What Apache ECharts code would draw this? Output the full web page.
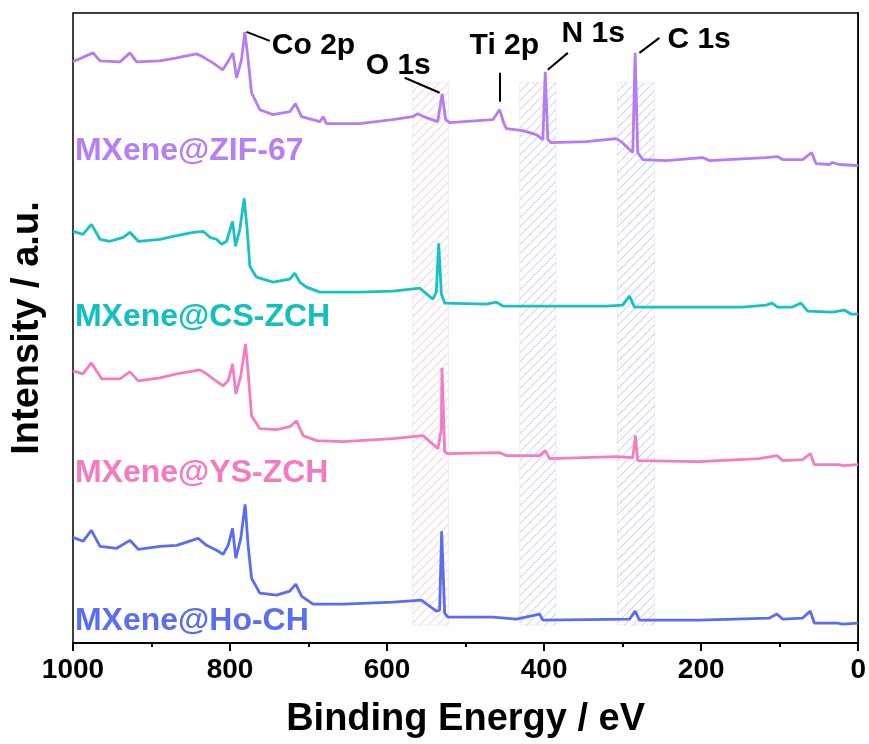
<!DOCTYPE html>
<html>
<head>
<meta charset="utf-8">
<script src="https://cdn.jsdelivr.net/npm/echarts@6/dist/echarts.min.js"></script>
<style>
  html, body { margin: 0; padding: 0; background: #fff; }
  #chart { width: 869px; height: 744px; }
</style>
</head>
<body>
<div id="chart"></div>
<script>
// binding energy (eV) / intensity (a.u., stacked with offsets as in the figure)
var zifEV = [1000,974.6,965.6,940.2,927.5,919,889.3,868,842.6,834.6,821.9,809.2,802.8,796.4,791.7,785.4,781.2,777.3,772.6,762.1,745.5,723.9,716.7,709,685.7,681.5,677.2,634.9,592.9,567.4,561,550,535.6,529.9,525.4,520.3,465.3,456.7,451.6,448.2,427.1,410,401.6,398.6,395.3,391,346.4,308.3,301.9,291.3,287.1,284.1,280.8,274.4,244.6,198.1,189.6,117.4,102.6,96.3,70.8,59.4,53.8,36.8,32.7,24.1,2.1,0]
var zifI  = [583,592,584,583,592,583,584,587,591,588,582,575,583,592,567,585,613,588,552,535,530,533,541,528,523,528,521,521,525,528,531,527,523,551,525,522,525,535,522,516,514,510,505,573,505,502,503,506,503,495,492,592,492,485,484,487,484,487,488,485,485,492,481,480,482,480,479,479]

var csEV = [1000,987.3,976.6,965.6,952.9,936,927.5,916.9,889.3,872.4,846.9,834.2,825.7,817.2,810.8,804.4,796.8,793,787.5,782,778.2,774.8,766.3,745.2,723.9,717.6,711.2,702.7,685.7,634.9,592.5,558.5,541.6,537.3,534.3,530.9,526.7,473.6,460.9,452.5,320.9,299.8,291.3,284.9,147.2,117.4,109.8,102.6,83.6,72.9,64.4,32.7,17.8,9.3,0]
var csI  = [413,410,420,405,403,407,412,403,405,408,412,413,407,405,400,403,423,398,415,446,415,378,367,362,365,371,362,357,352,352,353,356,345,352,401,350,341,340,342,338,338,339,348,337,337,339,341,337,337,341,333,332,334,330,330]

var ysEV = [1000,987.3,976.6,963.5,940.2,927.5,916.9,889.3,868,838.4,829.9,821.5,808.8,802.4,796.8,792.6,786.3,780.3,777,772.6,762.1,740.8,723.9,715.4,707,689.9,656.1,592.5,554.3,535.2,530.9,530.1,526.7,522.5,456.7,448.2,405.8,398.6,393.1,308.3,287.1,283.7,280.8,202.3,126,103.4,96.3,70.8,61,55.9,24.1,19.9,0]
var ysI  = [273,270,281,265,265,272,263,266,270,274,270,265,258,263,280,250,268,300,272,228,215,214,217,223,208,203,202,205,208,195,215,276,192,190,191,188,188,193,185,187,186,208,183,182,185,188,183,184,190,179,179,178,179]

var hoEV = [1000,987.3,976.6,965.6,944.4,927.5,916.9,889.3,868,840.6,829.9,817.2,808.8,802.4,796.8,792.6,786.3,780.8,777,772.6,762.1,740.8,723.9,716.3,709,694.3,656.1,592.5,556.4,537.3,533.1,530.5,526.7,522.5,465.3,435.5,405.8,401.6,291.3,284.1,278.6,202.3,113.2,103.4,96.3,70.8,61,55.9,26.3,19.9,0]
var hoI  = [106,102,113,97,95,103,94,97,98,105,98,93,89,98,115,85,105,139,98,65,50,48,52,59,47,39,39,41,43,32,33,112,30,26,26,24,29,23,24,32,23,23,25,29,24,25,32,20,20,19,20]

var seriesNames = ['MXene@ZIF-67', 'MXene@CS-ZCH', 'MXene@YS-ZCH', 'MXene@Ho-CH']
var seriesColors = ['#b67cf2', '#17c2c2', '#f47cc1', '#5a6df0']
var labelColors = ['#b67ff2', '#12c0c0', '#f47bc0', '#5a6ef0']
var nameLabelPos = [[997.5, 493], [997.5, 327], [997.5, 170], [997.5, 22]]

// peak assignments
var peakNames = ['Co 2p', 'O 1s', 'Ti 2p', 'N 1s', 'C 1s']
var peakTextPos = [[746.8, 599], [627.2, 579], [494.9, 599], [377.8, 611], [243, 605]]
var peakLeaders = [
  [[779, 613], [749.4, 604]],
  [[577.6, 567], [533.1, 552]],
  [[456.7, 572], [456.7, 543]],
  [[395.3, 575], [369.8, 592]],
  [[278.6, 592], [253.2, 607]]
]

// hatched regions [from eV, to eV]
var bandFrom = [567.4, 431, 306.6]
var bandTo = [521.6, 385, 259.5]
var bandColors = ['#f4c3cb', '#c3c2f0', '#c3c2f0']
var bandLow = 18, bandHigh = 562

function zip (a, b) {
  var out = []
  for (var i = 0; i < a.length; i++) out.push([a[i], b[i]])
  return out
}

var chart = echarts.init(document.getElementById('chart'))
var font = 'Liberation Sans, Arial, sans-serif'
var curves = [zip(zifEV, zifI), zip(csEV, csI), zip(ysEV, ysI), zip(hoEV, hoI)]

var series = []
// shaded bands, hatched with "/" lines
series.push({
  type: 'custom',
  z: 1,
  silent: true,
  data: bandFrom.map(function (f, i) { return [f, bandTo[i], i] }),
  renderItem: function (params, api) {
    var p1 = api.coord([api.value(0), bandHigh])
    var p2 = api.coord([api.value(1), bandLow])
    var x0 = Math.min(p1[0], p2[0]), x1 = Math.max(p1[0], p2[0])
    var y0 = Math.min(p1[1], p2[1]), y1 = Math.max(p1[1], p2[1])
    var col = bandColors[api.value(2)]
    var kids = [{
      type: 'rect',
      shape: { x: x0, y: y0, width: x1 - x0, height: y1 - y0 },
      style: { fill: 'none', stroke: 'rgba(232,230,244,0.7)', lineWidth: 1 }
    }]
    var step = 9
    for (var c = x0 + y0; c < x1 + y1; c += step) {
      var lo = Math.max(x0, c - y1), hi = Math.min(x1, c - y0)
      if (lo < hi) {
        kids.push({
          type: 'line',
          shape: { x1: lo, y1: c - lo, x2: hi, y2: c - hi },
          style: { stroke: col, lineWidth: 1 }
        })
      }
    }
    return { type: 'group', children: kids }
  }
})
curves.forEach(function (d, i) {
  series.push({
    name: seriesNames[i],
    type: 'line',
    data: d,
    z: 3,
    showSymbol: false,
    symbol: 'none',
    lineStyle: { color: seriesColors[i], width: 2.8 }
  })
})
// curve names
series.push({
  type: 'scatter',
  z: 4,
  symbolSize: 0,
  silent: true,
  itemStyle: { opacity: 1 },
  data: seriesNames.map(function (n, i) {
    return {
      name: n,
      value: nameLabelPos[i],
      label: { color: labelColors[i] }
    }
  }),
  label: {
    show: true,
    position: 'right',
    distance: 0,
    formatter: '{b}',
    fontFamily: font,
    fontWeight: 'bold',
    fontSize: 32
  }
})
// peak labels with leader lines
series.push({
  type: 'scatter',
  z: 4,
  symbolSize: 0,
  silent: true,
  itemStyle: { opacity: 1 },
  data: peakNames.map(function (n, i) {
    return { name: n, value: peakTextPos[i] }
  }),
  label: {
    show: true,
    position: 'right',
    distance: 0,
    formatter: '{b}',
    color: '#000',
    fontFamily: font,
    fontWeight: 'bold',
    fontSize: 30
  },
  markLine: {
    silent: true,
    symbol: 'none',
    label: { show: false },
    lineStyle: { color: '#000', width: 2, type: 'solid', opacity: 1 },
    data: peakLeaders.map(function (l) {
      return [{ coord: l[0] }, { coord: l[1] }]
    })
  }
})

var option = {
  animation: false,
  backgroundColor: '#fff',
  grid: {
    left: 73,
    right: 10,
    top: 13,
    bottom: 99,
    show: true,
    borderColor: '#000',
    borderWidth: 1.5
  },
  xAxis: {
    type: 'value',
    inverse: true,
    min: 0,
    max: 1000,
    interval: 200,
    name: 'Binding Energy / eV',
    nameLocation: 'middle',
    nameGap: 58,
    nameTextStyle: { fontFamily: font, fontWeight: 'bold', fontSize: 38, color: '#000' },
    axisLine: { lineStyle: { color: '#000', width: 2 } },
    axisTick: { length: 8, lineStyle: { color: '#000', width: 2 } },
    minorTick: { show: true, splitNumber: 2, length: 4, lineStyle: { color: '#000', width: 2 } },
    splitLine: { show: false },
    axisLabel: {
      margin: 13,
      fontFamily: font,
      fontWeight: 'bold',
      fontSize: 28,
      color: '#000',
      formatter: function (v) { return String(v) }
    }
  },
  yAxis: {
    type: 'value',
    min: 0,
    max: 632,
    name: 'Intensity / a.u.',
    nameLocation: 'middle',
    nameGap: 26,
    nameTextStyle: { fontFamily: font, fontWeight: 'bold', fontSize: 38, color: '#000' },
    axisLine: { show: true, lineStyle: { color: '#000', width: 1.5 } },
    axisTick: { show: false },
    axisLabel: { show: false },
    splitLine: { show: false }
  },
  series: series
}
chart.setOption(option)
</script>
</body>
</html>
